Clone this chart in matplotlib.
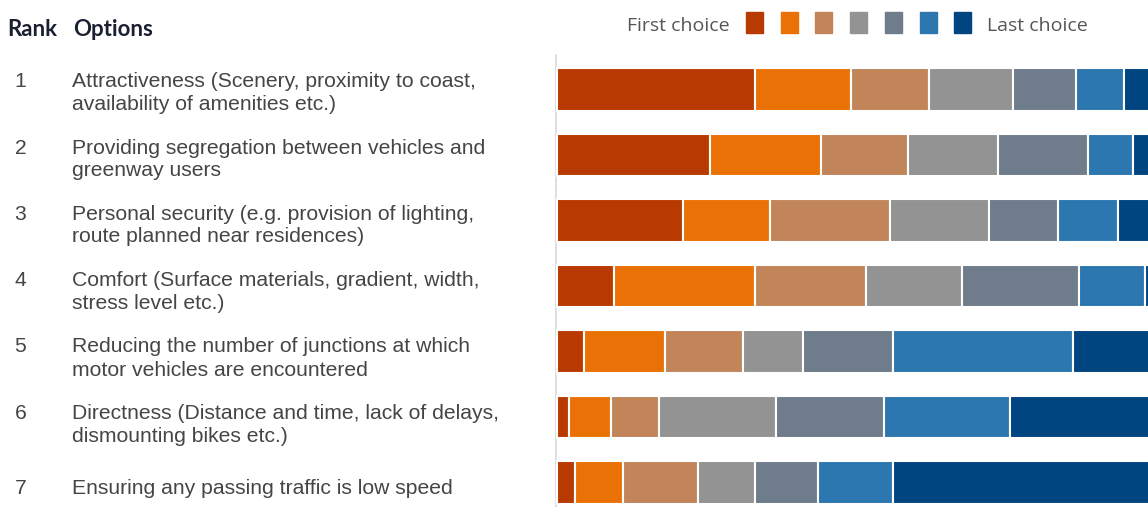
import matplotlib.pyplot as plt

W, H = 1148, 507

ranks = ['1', '2', '3', '4', '5', '6', '7']
options = [
    'Attractiveness (Scenery, proximity to coast,\navailability of amenities etc.)',
    'Providing segregation between vehicles and\ngreenway users',
    'Personal security (e.g. provision of lighting,\nroute planned near residences)',
    'Comfort (Surface materials, gradient, width,\nstress level etc.)',
    'Reducing the number of junctions at which\nmotor vehicles are encountered',
    'Directness (Distance and time, lack of delays,\ndismounting bikes etc.)',
    'Ensuring any passing traffic is low speed',
]

# share of respondents (%) giving each rank, first choice -> last choice
choice_1 = [33.0, 25.5, 21.0, 9.5, 4.5, 2.0, 3.0]
choice_2 = [16.0, 18.5, 14.5, 23.5, 13.5, 7.0, 8.0]
choice_3 = [13.0, 14.5, 20.0, 18.5, 13.0, 8.0, 12.5]
choice_4 = [14.0, 15.0, 16.5, 16.0, 10.0, 19.5, 9.5]
choice_5 = [10.5, 15.0, 11.5, 19.5, 15.0, 18.0, 10.5]
choice_6 = [8.0, 7.5, 10.0, 11.0, 30.0, 21.0, 12.5]
choice_7 = [5.5, 4.0, 6.5, 2.0, 14.0, 24.5, 44.0]
choices = [choice_1, choice_2, choice_3, choice_4, choice_5, choice_6, choice_7]

colors = ['#b83a00', '#ea7106', '#c2855a', '#939393', '#6e7c8c', '#2c77b0', '#00457f']


def fx(px):
    return px / W


def fy(py):
    return 1 - py / H


fig = plt.figure(figsize=(W / 100, H / 100), dpi=100)

# stacked bars, cut off at the right edge of the figure
ax = fig.add_axes([fx(556), fy(507), 1 - fx(556), fy(55) - fy(507)])
y = list(range(len(ranks)))
left = [0.0] * len(ranks)
for vals, c in zip(choices, colors):
    ax.barh(y, vals, left=left, height=0.656, color=c, edgecolor='white', linewidth=1.5)
    left = [l + v for l, v in zip(left, vals)]
ax.set_xlim(-1 / 6, 98.5)
ax.set_ylim(6.374, -0.527)
ax.set_xticks([])
ax.set_yticks([])
for s in ['top', 'right', 'bottom']:
    ax.spines[s].set_visible(False)
ax.spines['left'].set_color('#d9d9d9')
ax.spines['left'].set_linewidth(1.2)
ax.spines['left'].set_zorder(0)

# header
hdr = dict(fontsize=16, fontweight='bold', family='Lato', color='#1a2030', va='center')
fig.text(fx(7), fy(30), 'Rank', ha='left', **hdr)
fig.text(fx(73), fy(30), 'Options', ha='left', **hdr)

# rank numbers and option text, one text per line so baselines sit exactly
baselines = [87, 153.5, 219.5, 286, 352.5, 419, 494]
txt = dict(fontsize=15.2, family='Liberation Sans', color='#454545', va='baseline')
for r, opt, b in zip(ranks, options, baselines):
    fig.text(fx(20.5), fy(b), r, ha='center', **txt)
    for k, line in enumerate(opt.split('\n')):
        fig.text(fx(72), fy(b + 23 * k), line, ha='left', **txt)

# legend strip
leg = dict(fontsize=14, family='Open Sans', color='#555555', va='center')
fig.text(fx(627), fy(26), 'First choice', ha='left', **leg)
for k, c in enumerate(colors):
    x0 = 746 + 34.7 * k
    fig.patches.append(plt.Rectangle((fx(x0), fy(33)), fx(17), fy(12) - fy(33),
                                     transform=fig.transFigure, color=c, figure=fig))
fig.text(fx(987), fy(26), 'Last choice', ha='left', **leg)

fig.savefig('out.png', dpi=100)
